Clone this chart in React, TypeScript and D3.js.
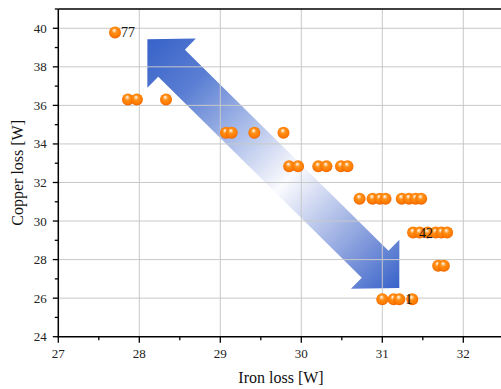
import React from 'react';
import * as d3 from 'd3';

// Operating points: iron loss vs copper loss, in watts
const ironLoss = [
  27.70,
  27.86, 27.97, 28.33,
  29.07, 29.14, 29.42, 29.78,
  29.85, 29.96, 30.21, 30.31, 30.49, 30.57,
  30.72, 30.88, 30.97, 31.04, 31.24, 31.33, 31.41, 31.48,
  31.38, 31.46, 31.56, 31.66, 31.73, 31.80,
  31.69, 31.76,
  31.00, 31.14, 31.21, 31.37,
];
const copperLoss = [
  39.78,
  36.31, 36.31, 36.31,
  34.58, 34.58, 34.58, 34.58,
  32.84, 32.84, 32.84, 32.84, 32.84, 32.84,
  31.16, 31.16, 31.16, 31.16, 31.16, 31.16, 31.16, 31.16,
  29.40, 29.40, 29.40, 29.40, 29.40, 29.40,
  27.68, 27.68,
  25.94, 25.94, 25.94, 25.94,
];
// Annotated points (index into the arrays above, and the tag shown)
const labelIndex = [0, 22, 32];
const labelText = ['77', '42', '1'];

const xDomain = [27, 32.5];
const yDomain = [24, 41];
const xMajor = [27, 28, 29, 30, 31, 32];
const xMinor = [27.5, 28.5, 29.5, 30.5, 31.5, 32.5];
const yMajor = [24, 26, 28, 30, 32, 34, 36, 38, 40];
const yMinor = [25, 27, 29, 31, 33, 35, 37, 39, 41];

// Trade-off arrow end points (iron, copper)
const arrowStart = [28.10, 39.43];
const arrowEnd = [31.21, 26.52];

const W = 501;
const H = 389;
const FONT = '"Liberation Serif", "Times New Roman", serif';

export default function App() {
  const x = d3.scaleLinear().domain(xDomain).range([58.3, 503.8]);
  const y = d3.scaleLinear().domain(yDomain).range([336.7, 9]);

  const [x0, x1] = x.range();
  const [yb, yt] = y.range();

  // Double-headed arrow polygon
  const A = [x(arrowStart[0]), y(arrowStart[1])];
  const B = [x(arrowEnd[0]), y(arrowEnd[1])];
  const len = Math.hypot(B[0] - A[0], B[1] - A[1]);
  const u = [(B[0] - A[0]) / len, (B[1] - A[1]) / len];
  const n = [-u[1], u[0]];
  const headLen = 34;
  const headHalf = 34.5;
  const shaftHalf = 19;
  const pt = (p: number[], a: number, b: number) => [p[0] + a * u[0] + b * n[0], p[1] + a * u[1] + b * n[1]];
  const arrowPts = [
    A,
    pt(A, headLen, headHalf),
    pt(A, headLen, shaftHalf),
    pt(B, -headLen, shaftHalf),
    pt(B, -headLen, headHalf),
    B,
    pt(B, -headLen, -headHalf),
    pt(B, -headLen, -shaftHalf),
    pt(A, headLen, -shaftHalf),
    pt(A, headLen, -headHalf),
  ];
  const arrowPath = d3.line()(arrowPts as [number, number][]) + 'Z';

  const points = ironLoss.map((v, i) => ({ cx: x(v), cy: y(copperLoss[i]) }));

  return (
    <div style={{ position: 'fixed', left: 0, top: 0 }}>
      <svg width={W} height={H} style={{ display: 'block', overflow: 'hidden', background: '#fff' }}>
        <defs>
          <linearGradient id="arrowFill" gradientUnits="userSpaceOnUse" x1={A[0]} y1={A[1]} x2={B[0]} y2={B[1]}>
            <stop offset="0" stopColor="#3762c9" />
            <stop offset="0.18" stopColor="#5a7ed3" />
            <stop offset="0.56" stopColor="#fbfbfe" />
            <stop offset="0.85" stopColor="#7d96da" />
            <stop offset="1" stopColor="#3762c9" />
          </linearGradient>
          <radialGradient id="ball" cx="0.5" cy="0.45" r="0.55" fx="0.42" fy="0.3">
            <stop offset="0" stopColor="#ffffff" />
            <stop offset="0.16" stopColor="#ffd2a0" />
            <stop offset="0.38" stopColor="#ff9018" />
            <stop offset="0.8" stopColor="#ff7a00" />
            <stop offset="1" stopColor="#e86200" />
          </radialGradient>
        </defs>

        {/* arrow sits beneath the grid */}
        <path d={arrowPath} fill="url(#arrowFill)" />

        {/* grid */}
        <g stroke="#c8c8c8" strokeWidth={1}>
          {xMajor.filter((t) => t > xDomain[0]).map((t) => (
            <line key={'gx' + t} x1={x(t)} x2={x(t)} y1={yt} y2={yb} />
          ))}
          {yMajor.filter((t) => t > yDomain[0]).map((t) => (
            <line key={'gy' + t} x1={x0} x2={x1} y1={y(t)} y2={y(t)} />
          ))}
        </g>

        {/* frame */}
        <line x1={x0} x2={x1} y1={yt} y2={yt} stroke="#000" strokeWidth={1.4} />
        <line x1={x0} x2={x0} y1={yt} y2={yb + 0.7} stroke="#000" strokeWidth={1.5} />
        <line x1={x0 - 0.7} x2={x1} y1={yb} y2={yb} stroke="#000" strokeWidth={1.5} />

        {/* ticks */}
        <g stroke="#000" strokeWidth={1.3}>
          {xMajor.map((t) => (
            <line key={'xt' + t} x1={x(t)} x2={x(t)} y1={yb} y2={yb + 6} />
          ))}
          {xMinor.map((t) => (
            <line key={'xm' + t} x1={x(t)} x2={x(t)} y1={yb} y2={yb + 3.5} />
          ))}
          {yMajor.map((t) => (
            <line key={'yt' + t} x1={x0 - 5.5} x2={x0} y1={y(t)} y2={y(t)} />
          ))}
          {yMinor.map((t) => (
            <line key={'ym' + t} x1={x0 - 3.5} x2={x0} y1={y(t)} y2={y(t)} />
          ))}
        </g>

        <g fontFamily={FONT} fontSize={13} fill="#222">
          {xMajor.map((t) => (
            <text key={'xl' + t} x={x(t)} y={yb + 21.5} textAnchor="middle">{t}</text>
          ))}
          {yMajor.map((t) => (
            <text key={'yl' + t} x={x0 - 11.5} y={y(t)} dy="0.35em" textAnchor="end">{t}</text>
          ))}
        </g>

        <text x={281} y={383} fontFamily={FONT} fontSize={16} textAnchor="middle" fill="#111">Iron loss [W]</text>
        <text transform={`translate(23,${(yt + yb) / 2}) rotate(-90)`} fontFamily={FONT} fontSize={16} textAnchor="middle" fill="#111">Copper loss [W]</text>

        {/* operating points */}
        <g>
          {points.map((p, i) => (
            <circle key={'p' + i} cx={p.cx} cy={p.cy} r={6} fill="url(#ball)" />
          ))}
        </g>

        <g fontFamily={FONT} fontSize={14} fill="#111">
          {labelIndex.map((idx, k) => (
            <text key={'lab' + k} x={points[idx].cx + 6} y={points[idx].cy} dy="0.35em">{labelText[k]}</text>
          ))}
        </g>
      </svg>
    </div>
  );
}
